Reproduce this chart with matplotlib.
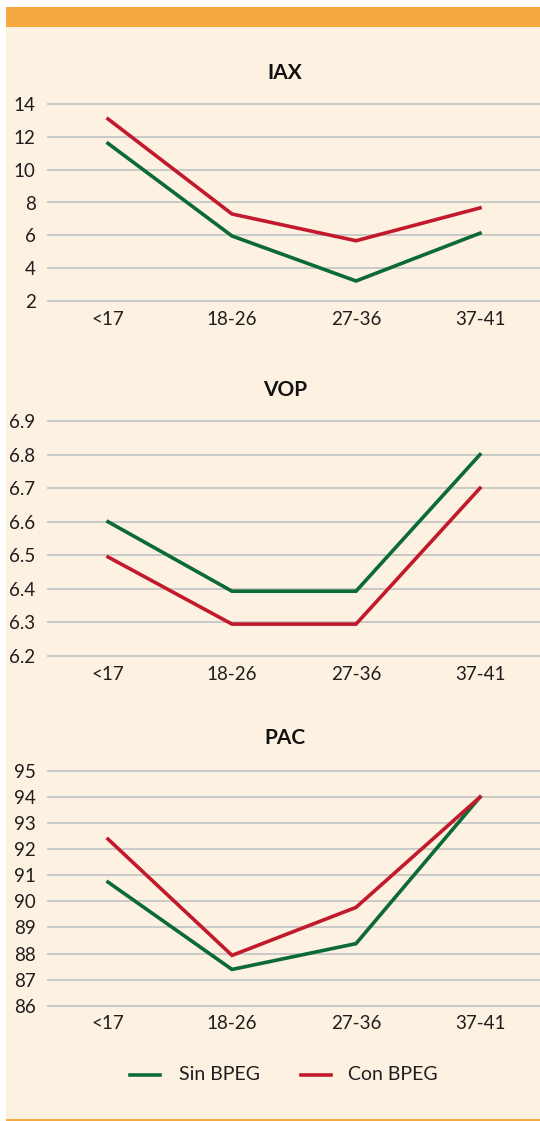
import matplotlib
matplotlib.use("Agg")
import matplotlib.pyplot as plt
from matplotlib.patches import Rectangle
from matplotlib.lines import Line2D

plt.rcParams['font.family'] = ['Lato', 'DejaVu Sans']

categories = ["<17", "18-26", "27-36", "37-41"]
series_names = ["Sin BPEG", "Con BPEG"]

iax_sin = [11.6, 5.96, 3.22, 6.13]
iax_con = [13.09, 7.30, 5.67, 7.67]
iax_ticks = [2, 4, 6, 8, 10, 12, 14]

vop_sin = [6.6, 6.393, 6.393, 6.8]
vop_con = [6.495, 6.295, 6.295, 6.70]
vop_ticks = [6.2, 6.3, 6.4, 6.5, 6.6, 6.7, 6.8, 6.9]

pac_sin = [90.74, 87.39, 88.38, 94.0]
pac_con = [92.39, 87.93, 89.77, 94.0]
pac_ticks = [86, 87, 88, 89, 90, 91, 92, 93, 94, 95]

GREEN = "#0b6a36"
RED = "#c21a2c"
BG = "#fdf1e1"
ORANGE = "#f8a840"
GRID = "#c9c9c9"
TXT = "#1e1e1e"

W, H = 540, 1121
fig = plt.figure(figsize=(W / 100, H / 100), dpi=100)
fig.patch.set_facecolor("white")

def px(x0, y0, x1, y1):
    # pixel box (top-left origin) -> figure fraction rect
    return [x0 / W, 1 - y1 / H, (x1 - x0) / W, (y1 - y0) / H]

# panel background and orange bands
fig.patches.append(Rectangle((6 / W, 0), 1 - 6 / W, 1 - 7 / H, transform=fig.transFigure,
                             facecolor=BG, edgecolor="none", zorder=-10))
fig.patches.append(Rectangle((6 / W, 1 - 27 / H), 1 - 6 / W, 20 / H, transform=fig.transFigure,
                             facecolor=ORANGE, edgecolor="none", zorder=-9))
fig.patches.append(Rectangle((6 / W, 0), 1 - 6 / W, 2.5 / H, transform=fig.transFigure,
                             facecolor=ORANGE, edgecolor="none", zorder=-9))

panels = [
    ("IAX", iax_sin, iax_con, iax_ticks, (104, 301), 73, "{:g}"),
    ("VOP", vop_sin, vop_con, vop_ticks, (421, 656), 390, "{:.1f}"),
    ("PAC", pac_sin, pac_con, pac_ticks, (771, 1005.7), 738, "{:g}"),
]

x = list(range(len(categories)))
for title, s1, s2, ticks, (ytop, ybot), ytitle, fmt in panels:
    ax = fig.add_axes(px(48, ytop, 540, ybot))
    ax.set_zorder(2)
    ax.set_facecolor("none")
    ax.set_xlim(-0.484, 3.484)
    ax.set_ylim(ticks[0], ticks[-1])
    ax.set_yticks(ticks)
    ax.set_yticklabels([fmt.format(t) for t in ticks])
    for t in ticks:
        ax.axhline(t, color=GRID, lw=1.4, zorder=1, clip_on=False)
    ax.plot(x, s1, color=GREEN, lw=2.6, zorder=3, clip_on=False, solid_joinstyle="miter")
    ax.plot(x, s2, color=RED, lw=2.6, zorder=3, clip_on=False, solid_joinstyle="miter")
    ax.set_xticks(x)
    ax.set_xticklabels(categories)
    for sp in ax.spines.values():
        sp.set_visible(False)
    ax.tick_params(axis="y", length=0, pad=9, labelsize=13.5, labelcolor=TXT)
    ax.tick_params(axis="x", length=0, pad=7, labelsize=13.5, labelcolor=TXT)
    fig.text(285 / W, 1 - ytitle / H, title, ha="center", va="center",
             fontsize=15, fontweight="bold", color="#111111")

# legend
ly = 1 - 1075 / H
fig.add_artist(Line2D([130 / W, 160 / W], [ly, ly], color=GREEN, lw=2.6, transform=fig.transFigure))
fig.text(179 / W, ly, series_names[0], ha="left", va="center", fontsize=14, color=TXT)
fig.add_artist(Line2D([301 / W, 331 / W], [ly, ly], color=RED, lw=2.6, transform=fig.transFigure))
fig.text(348 / W, ly, series_names[1], ha="left", va="center", fontsize=14, color=TXT)

fig.savefig("out.png", dpi=100, facecolor=fig.get_facecolor())
